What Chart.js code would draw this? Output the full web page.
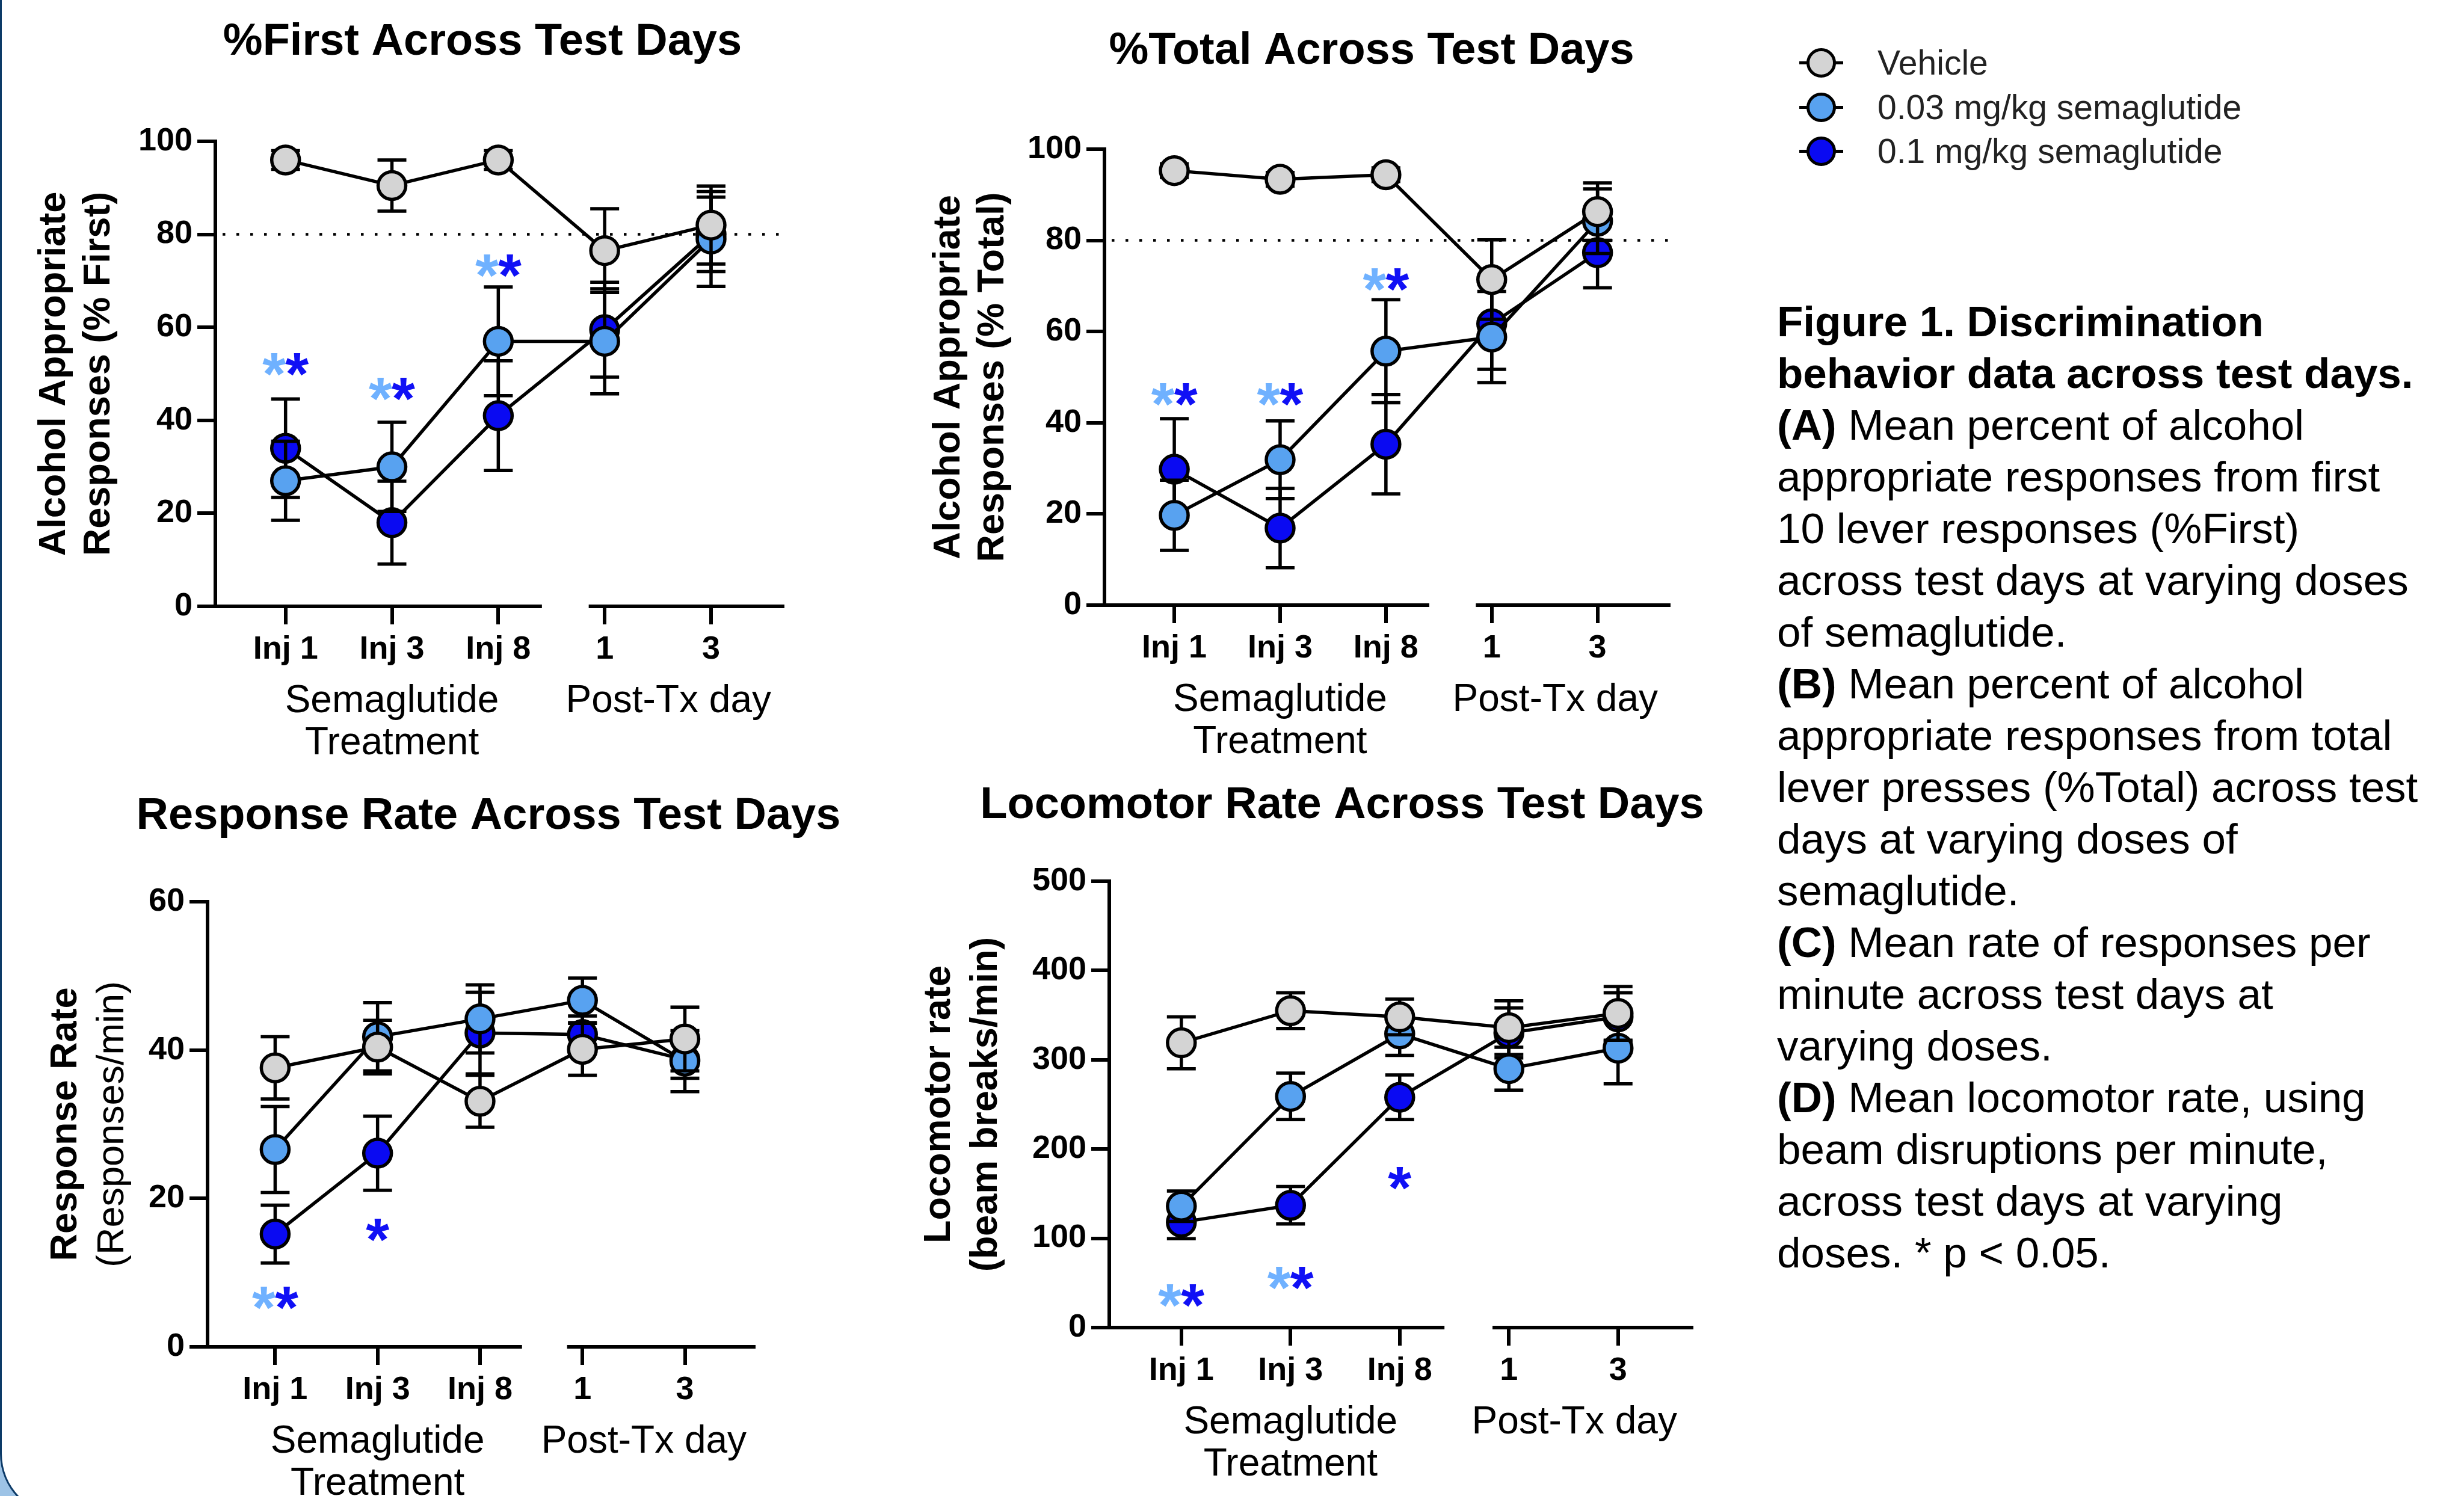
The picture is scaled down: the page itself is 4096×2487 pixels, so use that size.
<!DOCTYPE html>
<html lang="en">
<head>
<meta charset="utf-8">
<script src="https://cdn.jsdelivr.net/npm/chart.js@4.4.1/dist/chart.umd.min.js"></script>
<style>
    html, body { margin: 0; padding: 0; }
    body {
        width: 4096px; height: 2487px; overflow: hidden; position: relative;
        background: #9dc3e6;
        font-family: "Liberation Sans", Arial, sans-serif;
    }
    .frame {
        position: absolute; left: 0; top: -200px; width: 4400px; height: 2721px;
        background: #fff; box-sizing: border-box;
        border-left: 3.5px solid #0c3a67; border-bottom: 3.5px solid #0c3a67;
        border-bottom-left-radius: 104px;
    }
    canvas.panel { position: absolute; }
    .legend { position: absolute; left: 2991px; top: 0; }
    .legend .row { position: absolute; left: 0; height: 60px; width: 900px; }
    .legend .bar { position: absolute; left: 0; top: 27.5px; width: 73px; height: 5px; background: #000; }
    .legend .dot {
        position: absolute; left: 12px; top: 5.5px; width: 49px; height: 49px;
        border-radius: 50%; border: 5px solid #000; box-sizing: border-box;
    }
    .legend .txt { position: absolute; left: 130px; top: 0; line-height: 60px; font-size: 57px; color: #222; white-space: nowrap; }
    .caption { position: absolute; left: 2954px; top: 492px; font-size: 71px; color: #000; }
    .caption div { height: 86px; line-height: 86px; white-space: nowrap; }
</style>
</head>
<body>
<div class="frame"></div>

<canvas class="panel" id="cA" width="1420" height="1300" style="left:0px;top:0px"></canvas>
<canvas class="panel" id="cB" width="1480" height="1300" style="left:1420px;top:0px"></canvas>
<canvas class="panel" id="cC" width="1420" height="1187" style="left:0px;top:1300px"></canvas>
<canvas class="panel" id="cD" width="1480" height="1187" style="left:1420px;top:1300px"></canvas>

<div class="legend">
    <div class="row" style="top:74px"><div class="bar"></div><div class="dot" style="background:#d4d4d4"></div><div class="txt">Vehicle</div></div>
    <div class="row" style="top:148px"><div class="bar"></div><div class="dot" style="background:#58a2f0"></div><div class="txt">0.03 mg/kg semaglutide</div></div>
    <div class="row" style="top:221px"><div class="bar"></div><div class="dot" style="background:#0a0af2"></div><div class="txt">0.1 mg/kg semaglutide</div></div>
</div>

<div class="caption">
    <div><b>Figure 1. Discrimination</b></div>
    <div><b>behavior data across test days.</b></div>
    <div><b>(A)</b> Mean percent of alcohol</div>
    <div>appropriate responses from first</div>
    <div>10 lever responses (%First)</div>
    <div>across test days at varying doses</div>
    <div>of semaglutide.</div>
    <div><b>(B)</b> Mean percent of alcohol</div>
    <div>appropriate responses from total</div>
    <div>lever presses (%Total) across test</div>
    <div>days at varying doses of</div>
    <div>semaglutide.</div>
    <div><b>(C)</b> Mean rate of responses per</div>
    <div>minute across test days at</div>
    <div>varying doses.</div>
    <div><b>(D)</b> Mean locomotor rate, using</div>
    <div>beam disruptions per minute,</div>
    <div>across test days at varying</div>
    <div>doses. * p &lt; 0.05.</div>
</div>

<script>
    // categories
    const xLabels = ['Inj 1', 'Inj 3', 'Inj 8', '1', '3'];
    const seriesNames = ['Vehicle', '0.03 mg/kg semaglutide', '0.1 mg/kg semaglutide'];

    // %First (mean, SEM)
    const firstVehicle = [96, 90.5, 96, 76.5, 82];
    const firstVehicleErr = [2, 5.5, 2, 9, 8.4];
    const firstLow = [27, 30, 57, 57, 79];
    const firstLowErr = [8.5, 9.6, 11.7, 11.3, 10.2];
    const firstHigh = [34, 18, 41, 59.5, 80];
    const firstHighErr = [10.6, 8.9, 11.8, 10.2, 8];

    // %Total
    const totalVehicle = [95.3, 93.4, 94.4, 71.4, 86.3];
    const totalVehicleErr = [1.5, 1.5, 1.5, 8.7, 6.3];
    const totalLow = [19.7, 31.9, 55.7, 58.8, 84.2];
    const totalLowErr = [7.7, 8.5, 11.3, 10, 7.1];
    const totalHigh = [29.8, 16.9, 35.3, 61.7, 77.3];
    const totalHighErr = [11.1, 8.7, 10.9, 10, 7.7];

    // response rate (responses/min)
    const rateVehicle = [37.6, 40.4, 33.1, 40.1, 41.5];
    const rateVehicleErr = [4.2, 3.6, 3.5, 3.5, 4.3];
    const rateLow = [26.6, 41.8, 44.2, 46.7, 38.5];
    const rateLowErr = [5.8, 4.6, 4.6, 3, 4.1];
    const rateHigh = [15.2, 26.1, 42.3, 42.1, 38.7];
    const rateHighErr = [3.9, 5, 5.5, 2.5, 2.5];

    // locomotor rate (beam breaks/min)
    const locoVehicle = [319, 355, 348, 336, 352];
    const locoVehicleErr = [29, 20, 20, 30, 30];
    const locoLow = [136, 259, 329, 290, 313];
    const locoLowErr = [17, 26, 24, 24, 40];
    const locoHigh = [118, 137, 258, 330, 348];
    const locoHighErr = [18.5, 21, 25, 28, 27];

    // significance marks: [category, value, 2 = both doses / 1 = 0.1 only]
    const firstStars = [[0, 53, 2], [1, 47.7, 2], [2, 74.2, 2]];
    const totalStars = [[0, 47.2, 2], [1, 47.2, 2], [2, 72.3, 2]];
    const rateStars = [[0, 7.2, 2], [1, 16.3, 1]];
    const locoStars = [[0, 41, 2], [1, 60, 2], [2, 172, 1]];

    const FILLS = ['#d4d4d4', '#58a2f0', '#0a0af2'];
    const STAR_LIGHT = '#6fb1ff';
    const STAR_DARK = '#1010f5';
    const FONT = '"Liberation Sans", Arial, sans-serif';
    const Y_W = 250, X_H = 100;
    const X_MIN = -0.66, X_MAX = 4.69;
    const AXIS_BREAK = [2.41, 2.85];

    Chart.defaults.font.family = FONT;

    function panelPlugin(p) {
        return {
            id: 'panel' + p.id,
            beforeDatasetsDraw(chart) {
                const { ctx, chartArea: a, scales: { x, y } } = chart;
                ctx.save();
                ctx.strokeStyle = '#000';
                ctx.lineWidth = 6;
                ctx.beginPath();
                ctx.moveTo(a.left - 3, a.bottom);
                ctx.lineTo(x.getPixelForValue(AXIS_BREAK[0]), a.bottom);
                ctx.moveTo(x.getPixelForValue(AXIS_BREAK[1]), a.bottom);
                ctx.lineTo(a.right, a.bottom);
                ctx.stroke();
                if (p.ref !== undefined) {
                    // dotted 80% criterion line
                    const ry = y.getPixelForValue(p.ref);
                    ctx.lineWidth = 4.5;
                    ctx.setLineDash([4.5, 18.5]);
                    ctx.beginPath();
                    ctx.moveTo(a.left + 12, ry);
                    ctx.lineTo(a.right, ry);
                    ctx.stroke();
                }
                ctx.restore();
            },
            beforeDatasetDraw(chart, args) {
                const { ctx, scales: { x, y } } = chart;
                const vals = p.series[args.index], errs = p.errs[args.index];
                ctx.save();
                ctx.strokeStyle = '#000';
                ctx.lineWidth = 5.5;
                ctx.beginPath();
                vals.forEach((v, k) => {
                    const px = x.getPixelForValue(k);
                    const top = y.getPixelForValue(v + errs[k]);
                    const bot = y.getPixelForValue(v - errs[k]);
                    ctx.moveTo(px, top); ctx.lineTo(px, bot);
                    ctx.moveTo(px - 24, top); ctx.lineTo(px + 24, top);
                    ctx.moveTo(px - 24, bot); ctx.lineTo(px + 24, bot);
                });
                ctx.stroke();
                ctx.restore();
            },
            afterDatasetsDraw(chart) {
                const { ctx, scales: { x, y } } = chart;
                const f = 100;
                ctx.save();
                ctx.font = 'bold ' + f + 'px ' + FONT;
                ctx.textAlign = 'center';
                ctx.textBaseline = 'alphabetic';
                p.stars.forEach(([xv, yv, kind]) => {
                    const px = x.getPixelForValue(xv);
                    const base = y.getPixelForValue(yv) + 0.575 * f;
                    if (kind === 2) {
                        ctx.fillStyle = STAR_LIGHT; ctx.fillText('*', px - 19, base);
                        ctx.fillStyle = STAR_DARK; ctx.fillText('*', px + 19, base);
                    } else {
                        ctx.fillStyle = STAR_DARK; ctx.fillText('*', px, base);
                    }
                });
                ctx.restore();
            },
            afterDraw(chart) {
                const { ctx, chartArea: a, scales: { x } } = chart;
                ctx.save();
                ctx.fillStyle = '#000';
                ctx.textAlign = 'center';
                ctx.textBaseline = 'middle';
                ctx.font = 'bold 74px ' + FONT;
                ctx.fillText(p.title, p.titleX, p.titleY);

                const cy = (a.top + a.bottom) / 2;
                p.yTitle.forEach((t, i) => {
                    ctx.save();
                    ctx.translate(p.yTitleX[i], cy);
                    ctx.rotate(-Math.PI / 2);
                    ctx.font = (p.yTitleBold[i] ? 'bold ' : '') + '63px ' + FONT;
                    ctx.fillText(t, 0, 0);
                    ctx.restore();
                });

                ctx.font = '64px ' + FONT;
                const gx = x.getPixelForValue(1);
                ctx.fillText('Semaglutide', gx, a.bottom + 158);
                ctx.fillText('Treatment', gx, a.bottom + 228);
                ctx.fillText('Post-Tx day', x.getPixelForValue(3.6), a.bottom + 158);
                ctx.restore();
            }
        };
    }

    function makePanel(p) {
        const datasets = p.series.map((vals, i) => ({
            label: seriesNames[i],
            data: vals.map((v, k) => ({ x: k, y: v })),
            borderColor: '#000',
            borderWidth: 5.5,
            pointRadius: 23,
            pointHoverRadius: 23,
            pointBorderWidth: 5.5,
            pointBorderColor: '#000',
            pointBackgroundColor: FILLS[i],
            backgroundColor: FILLS[i],
            tension: 0,
            fill: false,
            clip: false
        }));
        const tickFont = { family: FONT, size: 54, weight: 'bold' };
        const grid = { drawOnChartArea: false, drawTicks: true, tickLength: 30, lineWidth: 6, tickWidth: 6, color: '#000', tickColor: '#000' };
        return new Chart(document.getElementById(p.id), {
            type: 'line',
            data: { datasets },
            plugins: [panelPlugin(p)],
            options: {
                responsive: false,
                animation: false,
                devicePixelRatio: 1,
                events: [],
                layout: { autoPadding: false, padding: p.padding },
                plugins: { legend: { display: false }, tooltip: { enabled: false }, title: { display: false } },
                scales: {
                    x: {
                        type: 'linear', min: X_MIN, max: X_MAX,
                        afterBuildTicks: s => { s.ticks = xLabels.map((_, i) => ({ value: i })); },
                        afterFit: s => { s.height = X_H; },
                        ticks: { callback: v => xLabels[v], font: tickFont, color: '#000', padding: 10, autoSkip: false, maxRotation: 0 },
                        grid: grid,
                        border: { display: false }
                    },
                    y: {
                        min: p.yMin, max: p.yMax,
                        afterFit: s => { s.width = Y_W; },
                        ticks: { stepSize: p.yStep, font: tickFont, color: '#000', padding: 8 },
                        grid: grid,
                        border: { display: true, width: 6, color: '#000' }
                    }
                }
            }
        });
    }

    makePanel({
        id: 'cA', title: '%First Across Test Days', titleX: 802, titleY: 71,
        yTitle: ['Alcohol Appropriate', 'Responses (% First)'], yTitleX: [91, 165], yTitleBold: [true, true],
        padding: { left: 358 - Y_W, top: 235, right: 1420 - 1304, bottom: 1300 - 1008 - X_H },
        yMin: 0, yMax: 100, yStep: 20, ref: 80,
        series: [firstVehicle, firstLow, firstHigh],
        errs: [firstVehicleErr, firstLowErr, firstHighErr],
        stars: firstStars
    });
    makePanel({
        id: 'cB', title: '%Total Across Test Days', titleX: 860, titleY: 86,
        yTitle: ['Alcohol Appropriate', 'Responses (% Total)'], yTitleX: [158, 231], yTitleBold: [true, true],
        padding: { left: 1836 - 1420 - Y_W, top: 248, right: 2900 - 2777, bottom: 1300 - 1006 - X_H },
        yMin: 0, yMax: 100, yStep: 20, ref: 80,
        series: [totalVehicle, totalLow, totalHigh],
        errs: [totalVehicleErr, totalLowErr, totalHighErr],
        stars: totalStars
    });
    makePanel({
        id: 'cC', title: 'Response Rate Across Test Days', titleX: 812, titleY: 58,
        yTitle: ['Response Rate', '(Responses/min)'], yTitleX: [110, 188], yTitleBold: [true, false],
        padding: { left: 345 - Y_W, top: 1499 - 1300, right: 1420 - 1256, bottom: 1187 - (2239 - 1300) - X_H },
        yMin: 0, yMax: 60, yStep: 20,
        series: [rateVehicle, rateLow, rateHigh],
        errs: [rateVehicleErr, rateLowErr, rateHighErr],
        stars: rateStars
    });
    makePanel({
        id: 'cD', title: 'Locomotor Rate Across Test Days', titleX: 811, titleY: 40,
        yTitle: ['Locomotor rate', '(beam breaks/min)'], yTitleX: [142, 220], yTitleBold: [true, true],
        padding: { left: 1844 - 1420 - Y_W, top: 1465 - 1300, right: 2900 - 2815, bottom: 1187 - (2207 - 1300) - X_H },
        yMin: 0, yMax: 500, yStep: 100,
        series: [locoVehicle, locoLow, locoHigh],
        errs: [locoVehicleErr, locoLowErr, locoHighErr],
        stars: locoStars
    });
</script>
</body>
</html>
